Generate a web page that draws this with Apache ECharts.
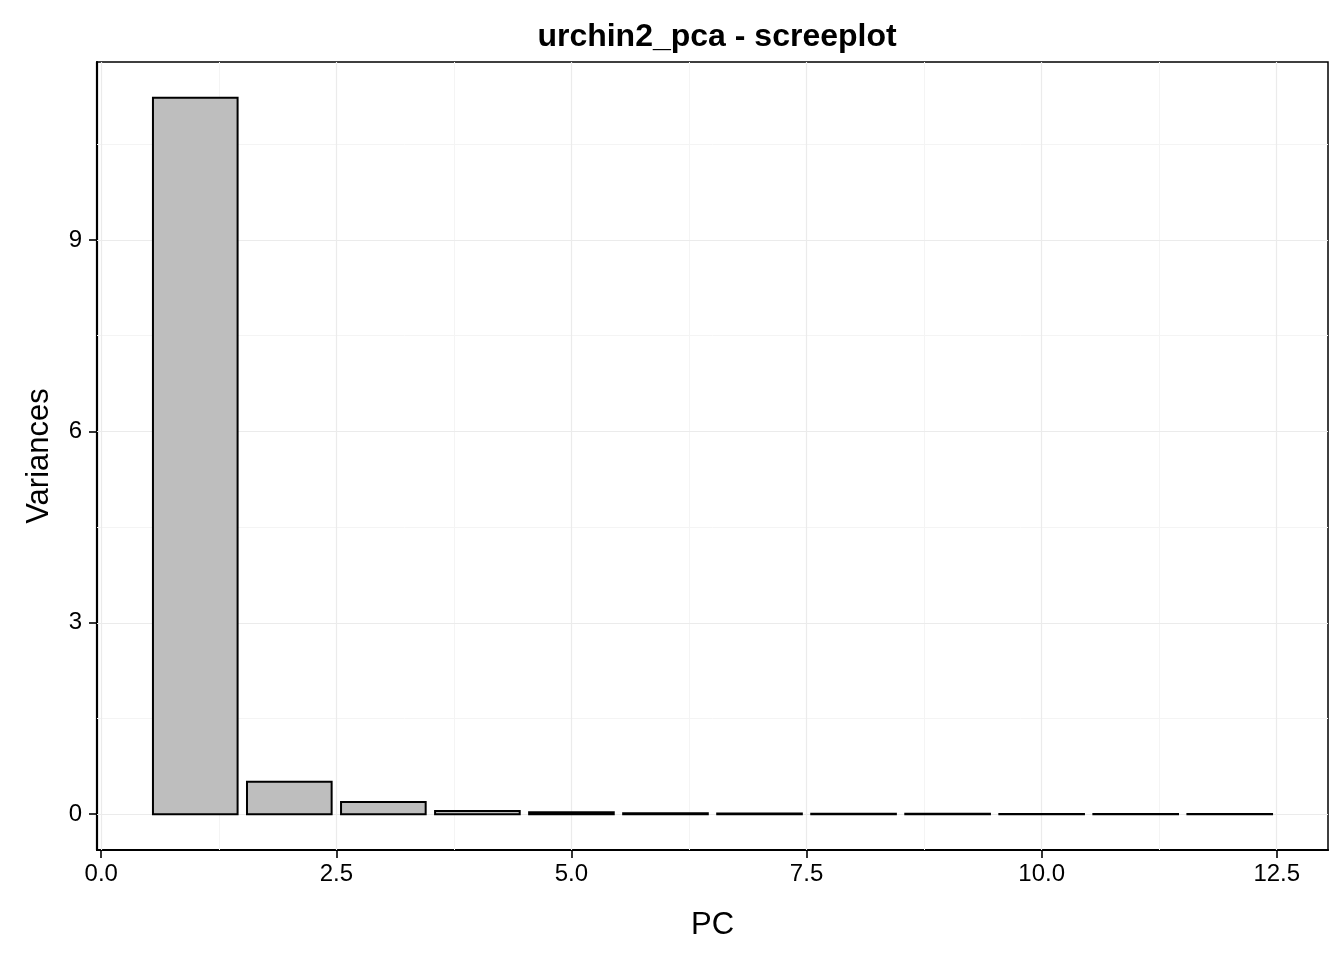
<!DOCTYPE html>
<html>
<head>
<meta charset="UTF-8">
<title>urchin2_pca - screeplot</title>
<style>
  html, body { margin: 0; padding: 0; background: #fff; }
  #chart { width: 1344px; height: 960px; }
</style>
</head>
<body>
<div id="chart"></div>
<script src="https://cdn.jsdelivr.net/npm/echarts@6/dist/echarts.min.js"></script>
<script>
// principal components and their variances
var pcs = [1, 2, 3, 4, 5, 6, 7, 8, 9, 10, 11, 12];
var variances = [11.23, 0.51, 0.19, 0.05, 0.03, 0.015, 0.012, 0.008, 0.006, 0.004, 0.003, 0.002];

// tick labels / grid lines
var xTicks = [0, 2.5, 5, 7.5, 10, 12.5];
var xMinor = [1.25, 3.75, 6.25, 8.75, 11.25];
var yTicks = [0, 3, 6, 9];
var yMinor = [1.5, 4.5, 7.5, 10.5];

var barWidth = 0.9;
var font = '"Liberation Sans", Helvetica, Arial, sans-serif';

var chart = echarts.init(document.getElementById('chart'));

function gridLines(vals, axis, color, width) {
    return vals.map(function (v) {
        var d = { lineStyle: { color: color, width: width, type: 'solid' } };
        d[axis] = v;
        return d;
    });
}

var option = {
    animation: false,
    title: {
        text: 'urchin2_pca - screeplot',
        left: 712,
        textAlign: 'center',
        top: 16,
        textStyle: { fontFamily: font, fontWeight: 'bold', fontSize: 32, color: '#000' }
    },
    grid: {
        left: 97, right: 16, top: 62, bottom: 110,
        show: true, borderColor: '#000', borderWidth: 1.5, backgroundColor: '#fff'
    },
    xAxis: {
        type: 'value',
        min: -0.045,
        max: 13.045,
        name: 'PC',
        nameLocation: 'middle',
        nameGap: 60,
        nameTextStyle: { fontFamily: font, fontSize: 31, color: '#000' },
        axisLine: { show: true, onZero: false, lineStyle: { color: '#000', width: 2.2 } },
        axisTick: { show: true, length: 8, customValues: xTicks, lineStyle: { color: '#000', width: 1.6 } },
        axisLabel: {
            customValues: xTicks, margin: 12,
            fontFamily: font, fontSize: 24, color: '#000',
            formatter: function (v) { return v.toFixed(1); }
        },
        splitLine: { show: false }
    },
    yAxis: {
        type: 'value',
        min: -0.5615,
        max: 11.79,
        name: 'Variances',
        nameLocation: 'middle',
        nameGap: 42,
        nameTextStyle: { fontFamily: font, fontSize: 31, color: '#000' },
        axisLine: { show: true, onZero: false, lineStyle: { color: '#000', width: 2.2 } },
        axisTick: { show: true, length: 8, customValues: yTicks, lineStyle: { color: '#000', width: 1.6 } },
        axisLabel: {
            customValues: yTicks, margin: 15,
            fontFamily: font, fontSize: 24, color: '#000'
        },
        splitLine: { show: false }
    },
    series: [
        {
            // grid lines
            type: 'line',
            data: [],
            silent: true,
            z: 1,
            markLine: {
                silent: true,
                symbol: 'none',
                label: { show: false },
                animation: false,
                data: []
                    .concat(gridLines(xMinor, 'xAxis', '#f4f4f4', 1))
                    .concat(gridLines(yMinor, 'yAxis', '#f4f4f4', 1))
                    .concat(gridLines(xTicks, 'xAxis', '#ebebeb', 1.2))
                    .concat(gridLines(yTicks, 'yAxis', '#ebebeb', 1.2))
            }
        },
        {
            type: 'custom',
            z: 5,
            data: pcs.map(function (p, i) { return [p, variances[i]]; }),
            renderItem: function (params, api) {
                var x = api.value(0);
                var v = api.value(1);
                var p0 = api.coord([x - barWidth / 2, v]);
                var p1 = api.coord([x + barWidth / 2, 0]);
                return {
                    type: 'rect',
                    shape: { x: p0[0], y: p0[1], width: p1[0] - p0[0], height: p1[1] - p0[1] },
                    style: { fill: '#bebebe', stroke: '#000', lineWidth: 2 }
                };
            }
        }
    ]
};

chart.setOption(option);
</script>
</body>
</html>
